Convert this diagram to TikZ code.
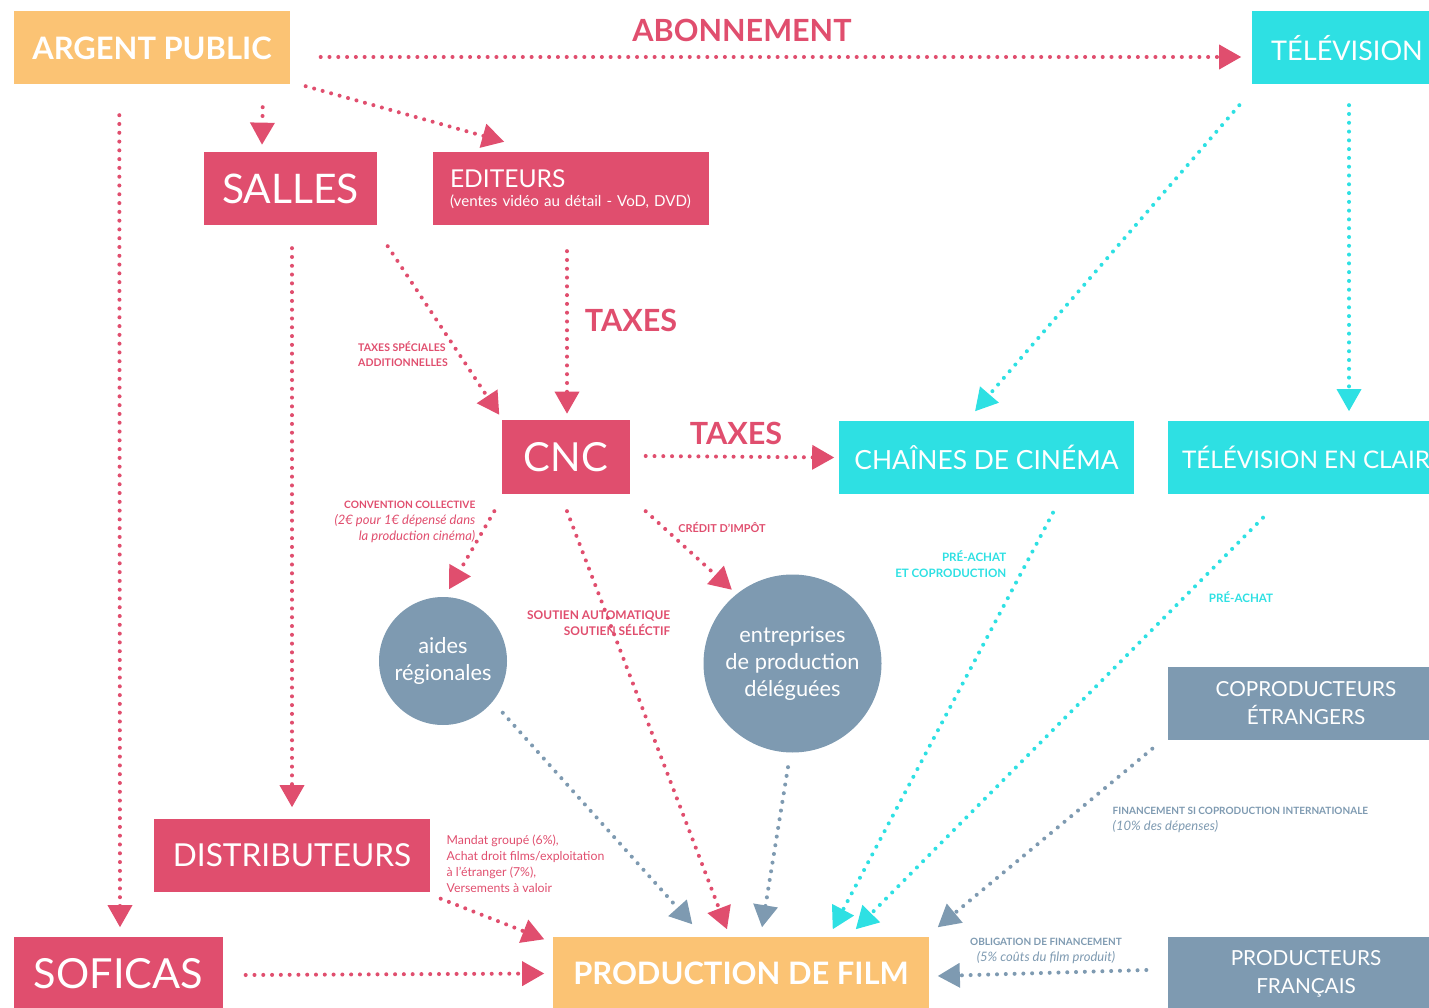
\documentclass[tikz,border=0pt]{standalone}
\usepackage{fontspec}
\setmainfont{Lato}
\usetikzlibrary{arrows.meta}
\usetikzlibrary{calc}

\definecolor{pinkred}{HTML}{E04E6E}
\definecolor{aqua}{HTML}{2EE0E3}
\definecolor{slate}{HTML}{7E9AB1}
\definecolor{sand}{HTML}{FBC374}

\begin{document}
\begin{tikzpicture}[
    box/.style={rectangle, inner sep=0pt, minimum height=0.73cm, text=white, align=center},
    disc/.style={circle, inner sep=0pt, fill=slate, text=white, align=center,
        font=\fontsize{6.2}{7.7}\selectfont},
    flow/.style={line width=1.15pt, line cap=round, dash pattern=on 0pt off 2.5pt,
        arrows={-Triangle[length=6.3pt, width=6.8pt]}},
    bigtag/.style={text=pinkred, font=\bfseries\fontsize{8.7}{10}\selectfont},
    tag/.style={inner sep=0pt, font=\bfseries\fontsize{3.1}{4.1}\selectfont},
    note/.style={inner sep=0pt, font=\fontsize{3.5}{4.55}\selectfont}
]
\useasboundingbox (0, 0) rectangle (14.29, -10.08);

% boxes
\node[box, fill=sand, minimum width=2.76cm, font=\bfseries\fontsize{8.8}{10}\selectfont]
    (argent) at (1.52, -0.48) {ARGENT PUBLIC};
\node[box, fill=aqua, minimum width=1.90cm, font=\fontsize{7.7}{9}\selectfont]
    (tele) at (13.47, -0.48) {TÉLÉVISION};
\node[box, fill=pinkred, minimum width=1.73cm, font=\fontsize{11.6}{13}\selectfont]
    (salles) at (2.905, -1.89) {SALLES};
\node[box, fill=pinkred, minimum width=2.76cm, text width=2.42cm, align=left,
    font=\fontsize{4.3}{5.4}\selectfont]
    (editeurs) at (5.71, -1.89)
    {{\fontsize{7}{8}\selectfont EDITEURS}\\(ventes vidéo au détail - VoD, DVD)};
\node[box, fill=pinkred, minimum width=1.28cm, font=\fontsize{11.4}{13}\selectfont]
    (cnc) at (5.66, -4.57) {CNC};
\node[box, fill=aqua, minimum width=2.95cm, font=\fontsize{7.5}{9}\selectfont]
    (chaines) at (9.865, -4.575) {CHAÎNES DE CINÉMA};
\node[box, fill=aqua, minimum width=2.76cm, font=\fontsize{6.9}{9}\selectfont]
    (tvclair) at (13.06, -4.575) {TÉLÉVISION EN CLAIR};
\node[disc, minimum size=1.28cm] (aides) at (4.43, -6.61) {aides\\régionales};
\node[disc, minimum size=1.78cm] (entreprises) at (7.925, -6.635)
    {entreprises\\de production\\déléguées};
\node[box, fill=slate, minimum width=2.76cm, font=\fontsize{5.9}{8}\selectfont]
    (copro) at (13.06, -7.035) {COPRODUCTEURS\\ÉTRANGERS};
\node[box, fill=pinkred, minimum width=2.76cm, font=\fontsize{9}{10}\selectfont]
    (distrib) at (2.92, -8.555) {DISTRIBUTEURS};
\node[box, fill=pinkred, minimum width=2.09cm, font=\fontsize{11.8}{13}\selectfont]
    (soficas) at (1.185, -9.735) {SOFICAS};
\node[box, fill=sand, minimum width=3.76cm, font=\bfseries\fontsize{8.8}{10}\selectfont]
    (production) at (7.41, -9.735) {PRODUCTION DE FILM};
\node[box, fill=slate, minimum width=2.76cm, font=\fontsize{5.9}{8}\selectfont]
    (prodfr) at (13.06, -9.735) {PRODUCTEURS\\FRANÇAIS};

% labels
\node[bigtag] (abonnement) at (7.42, -0.30) {ABONNEMENT};
\node[bigtag] (taxes_ed) at (6.31, -3.20) {TAXES};
\node[bigtag] (taxes_cnc) at (7.36, -4.33) {TAXES};
\node[tag, text=pinkred, align=left, font=\bfseries\fontsize{3.0}{4.1}\selectfont]
    (tsa) at (4.03, -3.54) {TAXES SPÉCIALES\\ADDITIONNELLES};
\node[anchor=east, text=pinkred, align=right, inner sep=0pt,
    font=\itshape\fontsize{3.7}{4.55}\selectfont] (convention) at (4.76, -5.22)
    {{\upshape\bfseries\fontsize{2.9}{4.55}\selectfont CONVENTION COLLECTIVE}\\
     (2€ pour 1€ dépensé dans\\la production cinéma)};
\node[tag, anchor=east, text=pinkred, align=right, font=\bfseries\fontsize{3.4}{4.55}\selectfont]
    (soutien) at (6.71, -6.23) {SOUTIEN AUTOMATIQUE\\SOUTIEN SÉLÉCTIF};
\node[tag, text=pinkred] (credit) at (7.22, -5.27) {CRÉDIT D’IMPÔT};
\node[tag, anchor=east, text=aqua, align=right, font=\bfseries\fontsize{3.3}{4.55}\selectfont]
    (preachat_cc) at (10.07, -5.64) {PRÉ-ACHAT\\ET COPRODUCTION};
\node[tag, text=aqua, font=\bfseries\fontsize{3.3}{4.55}\selectfont]
    (preachat_tv) at (12.41, -5.97) {PRÉ-ACHAT};
\node[anchor=west, text=slate, align=left, inner sep=0pt,
    font=\itshape\fontsize{3.7}{4.55}\selectfont] (financement) at (11.12, -8.20)
    {{\upshape\bfseries\fontsize{2.85}{4.55}\selectfont FINANCEMENT SI COPRODUCTION INTERNATIONALE}\\
     (10\% des dépenses)};
\node[note, anchor=west, text=pinkred, align=left] (mandat) at (4.46, -8.64)
    {Mandat groupé (6\%),\\Achat droit films/exploitation\\à l’étranger (7\%),\\Versements à valoir};
\node[text=slate, align=center, inner sep=0pt,
    font=\itshape\fontsize{3.7}{4.4}\selectfont] (obligation) at (10.46, -9.51)
    {{\upshape\bfseries\fontsize{2.85}{4.4}\selectfont OBLIGATION DE FINANCEMENT}\\
     (5\% coûts du film produit)};

% pink flows
\draw[flow, pinkred] ($(argent.east)+(0.30,-0.09)$) -- ($(tele.west)+(-0.10,-0.09)$);
\draw[flow, pinkred] ($(argent.south east)+(0.15,-0.01)$) -- ($(editeurs.north west)+(0.72,0.10)$);
\draw[flow, pinkred] ($(argent.south east)+(-0.28,-0.22)$) -- ($(salles.north)+(-0.285,0.07)$);
\draw[flow, pinkred] ($(argent.south west)+(1.06,-0.30)$) -- ($(soficas.north)+(0.015,0.09)$);
\draw[flow, pinkred] ($(salles.south)+(0.015,-0.22)$) -- ($(distrib.north)+(0,0.11)$);
\draw[flow, pinkred] ($(salles.south east)+(0.10,-0.20)$) -- ($(cnc.north west)+(-0.02,0.05)$);
\draw[flow, pinkred] ($(editeurs.south)+(-0.04,-0.25)$) -- ($(cnc.north)+(0.01,0.06)$);
\draw[flow, pinkred] ($(cnc.east)+(0.15,0.01)$) -- ($(chaines.west)+(-0.04,0)$);
\draw[flow, pinkred] ($(cnc.south west)+(-0.07,-0.17)$) -- ($(aides.north)+(0.06,0.07)$);
\draw[flow, pinkred] ($(cnc.south east)+(0.15,-0.17)$) -- ($(entreprises.130)+(-0.03,0.05)$);
\draw[flow, pinkred] ($(cnc.south)+(0.01,-0.17)$) -- ($(production.north)+(-0.14,0.07)$);
\draw[flow, pinkred] ($(distrib.south east)+(0.10,-0.06)$) -- ($(production.north west)+(-0.08,-0.03)$);
\draw[flow, pinkred] ($(soficas.east)+(0.22,-0.015)$) -- ($(production.west)+(-0.08,0)$);

% aqua flows
\draw[flow, aqua] ($(tele.south west)+(-0.12,-0.20)$) -- ($(chaines.north)+(-0.115,0.09)$);
\draw[flow, aqua] ($(tele.south)+(0.02,-0.20)$) -- ($(tvclair.north)+(0.43,0.09)$);
\draw[flow, aqua] ($(chaines.south)+(0.665,-0.18)$) -- ($(production.north east)+(-0.97,0.07)$);
\draw[flow, aqua] ($(tvclair.south)+(-0.43,-0.23)$) -- ($(production.north east)+(-0.74,0.07)$);

% slate flows
\draw[flow, slate] ($(aides.-45)+(0.14,-0.06)$) -- ($(production.north west)+(1.40,0.12)$);
\draw[flow, slate] ($(entreprises.south)+(-0.045,-0.14)$) -- ($(production.north)+(0.21,0.09)$);
\draw[flow, slate] ($(copro.south west)+(-0.15,-0.08)$) -- ($(production.north east)+(0.08,0.09)$);
\draw[flow, slate] ($(prodfr.west)+(-0.21,0.035)$) -- ($(production.east)+(0.08,-0.025)$);
\end{tikzpicture}
\end{document}
